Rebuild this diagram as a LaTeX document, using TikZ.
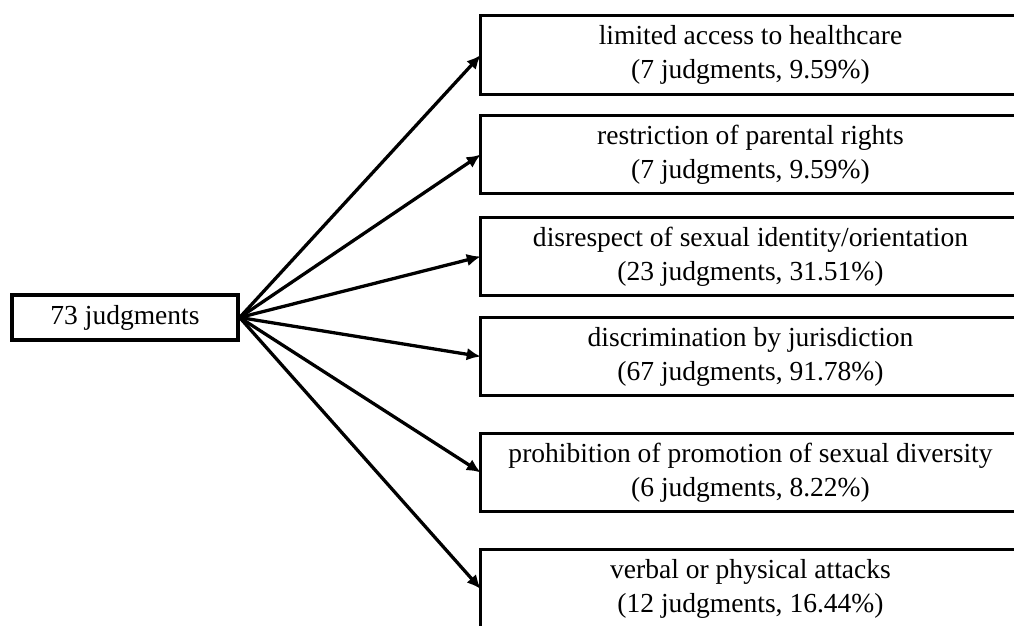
\documentclass[tikz,border=0pt]{standalone}
\usepackage{fontspec}
\setmainfont{Liberation Serif}
\usetikzlibrary{arrows.meta}

\begin{document}
\begin{tikzpicture}[x=0.03cm,y=-0.03cm,
  rootBox/.style={draw=black,line width=2.8pt,minimum width=6.78cm,minimum height=1.35cm,inner sep=0pt},
  catBox/.style={minimum width=16.17cm,minimum height=2.34cm,inner sep=0pt,align=center},
  catFrame/.style={draw=black,line width=2.8pt},
  catArrow/.style={draw=black,line width=2.8pt,-{Latex[length=4.2mm,width=3.8mm]}},
  font=\fontsize{23.5}{29}\selectfont]
  \useasboundingbox (0,0) rectangle (1014,626);
  \fill[white] (0,0) rectangle (1014,626);
  \clip (0,0) rectangle (1014,626);
  \node[rootBox] (root) at (125,317.5) {73 judgments};
  % категории справа, правый край уходит за обрез
  \node[catBox] (health) at (750.5,55) {limited access to healthcare\\(7 judgments, 9.59\%)};
  \node[catBox] (parent) at (750.5,154.5) {restriction of parental rights\\(7 judgments, 9.59\%)};
  \node[catBox] (ident) at (750.5,256.5) {disrespect of sexual identity/orientation\\(23 judgments, 31.51\%)};
  \node[catBox] (juris) at (750.5,356.5) {discrimination by jurisdiction\\(67 judgments, 91.78\%)};
  \node[catBox] (promo) at (750.5,472.5) {prohibition of promotion of sexual diversity\\(6 judgments, 8.22\%)};
  \node[catBox] (attack) at (750.5,589) {verbal or physical attacks\\(12 judgments, 16.44\%)};
  \foreach \cat in {health,parent,ident,juris,promo,attack}{
    \draw[catFrame] (\cat.north west) rectangle ([xshift=1.5cm]\cat.south east);
    \draw[catArrow] (root.east) -- (\cat.west);
  }
\end{tikzpicture}
\end{document}
